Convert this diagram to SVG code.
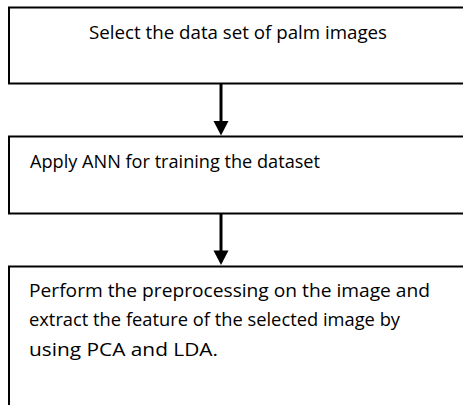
<svg xmlns="http://www.w3.org/2000/svg" width="463" height="405" viewBox="0 0 463 405">
<style>
.box{fill:#fff;stroke:#000;stroke-width:2}
.t{font-family:"Open Sans","Liberation Sans",sans-serif;font-size:18px;fill:#000}
.shaft{stroke:#000;stroke-width:3;fill:none}
.head{fill:#000}
</style>
<rect width="463" height="405" fill="#fff"/>
<g id="node1">
<rect class="box" x="9" y="7.5" width="470" height="76"/>
<text class="t" x="89" y="39" textLength="298" lengthAdjust="spacingAndGlyphs">Select the data set of palm images</text>
</g>
<g id="node2">
<rect class="box" x="9" y="136.5" width="470" height="77"/>
<text class="t" x="30" y="168" textLength="290" lengthAdjust="spacingAndGlyphs">Apply ANN for training the dataset</text>
</g>
<g id="node3">
<rect class="box" x="9" y="266.5" width="470" height="160"/>
<text class="t" x="29" y="297" textLength="401" lengthAdjust="spacingAndGlyphs">Perform the preprocessing on the image and</text>
<text class="t" x="29" y="326" textLength="371" lengthAdjust="spacingAndGlyphs">extract the feature of the selected image by</text>
<text class="t" x="29" y="355.5" textLength="189" lengthAdjust="spacingAndGlyphs">using PCA and LDA.</text>
</g>
<g id="connectors">
<line class="shaft" x1="221" y1="84" x2="221" y2="122"/>
<polygon class="head" points="213.5,121 228.5,121 221,135.5"/>
<line class="shaft" x1="221" y1="214" x2="221" y2="251"/>
<polygon class="head" points="213.5,250.5 228.5,250.5 221,265"/>
</g>
</svg>
